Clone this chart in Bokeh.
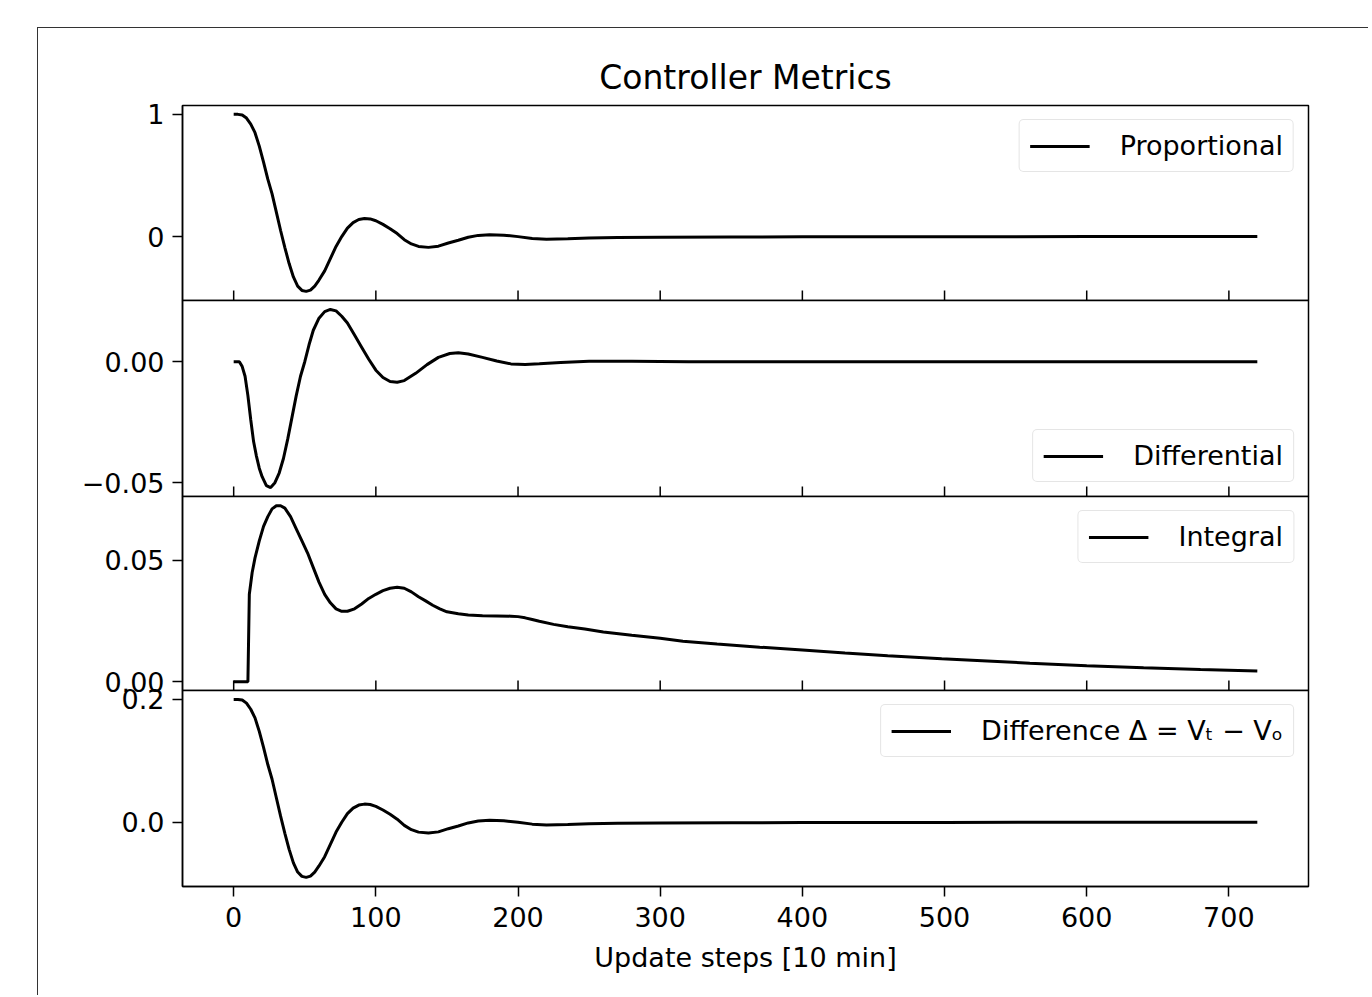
import math
from bokeh.plotting import figure
from bokeh.layouts import column
from bokeh.models import Range1d, FixedTicker
from bokeh.embed import file_html
from bokeh.resources import INLINE

# ---------------- data ----------------
steps_p = [0, 3, 6, 9, 12, 15, 18, 21, 24, 27, 30, 33, 36, 39, 42, 45, 48, 51, 54, 57, 60,
           64, 68, 72, 76, 80, 84, 88, 92, 96, 100, 105, 110, 115, 120, 125, 130, 137, 144,
           151, 158, 165, 172, 180, 190, 200, 210, 220, 235, 250, 270, 300, 350, 400, 500, 600, 720]
proportional = [1.0, 1.0, 0.995, 0.97, 0.92, 0.85, 0.74, 0.61, 0.47, 0.35, 0.20, 0.05, -0.09,
                -0.22, -0.33, -0.405, -0.44, -0.448, -0.438, -0.405, -0.355, -0.28, -0.18, -0.08,
                0.0, 0.07, 0.115, 0.14, 0.148, 0.145, 0.13, 0.10, 0.065, 0.025, -0.025, -0.06,
                -0.08, -0.088, -0.078, -0.052, -0.03, -0.005, 0.01, 0.016, 0.012, 0.0, -0.015,
                -0.022, -0.018, -0.012, -0.008, -0.006, -0.004, -0.002, -0.001, 0.0, 0.0]
difference = [0.2, 0.2, 0.199, 0.194, 0.184, 0.17, 0.148, 0.122, 0.094, 0.07, 0.04, 0.01, -0.018,
              -0.044, -0.066, -0.081, -0.088, -0.0896, -0.0876, -0.081, -0.071, -0.056, -0.036,
              -0.016, 0.0, 0.014, 0.023, 0.028, 0.0296, 0.029, 0.026, 0.02, 0.013, 0.005, -0.005,
              -0.012, -0.016, -0.0176, -0.0156, -0.0104, -0.006, -0.001, 0.002, 0.0032, 0.0024,
              0.0, -0.003, -0.0044, -0.0036, -0.0024, -0.0016, -0.0012, -0.0008, -0.0004,
              -0.0002, 0.0, 0.0]

steps_d = [0, 4, 6, 8, 10, 12, 14, 16, 18, 20, 23, 26, 29, 32, 35, 38, 41, 44, 47, 50, 53, 56,
           60, 64, 68, 72, 76, 80, 85, 90, 95, 100, 105, 110, 115, 120, 128, 136, 144, 152, 158,
           165, 175, 185, 195, 205, 215, 230, 250, 280, 320, 400, 720]
differential = [0.0, 0.0, -0.002, -0.006, -0.014, -0.024, -0.033, -0.039, -0.044, -0.0475,
                -0.0512, -0.052, -0.050, -0.046, -0.040, -0.032, -0.023, -0.014, -0.006, 0.0,
                0.007, 0.013, 0.018, 0.0207, 0.0216, 0.021, 0.0188, 0.016, 0.011, 0.006, 0.001,
                -0.0035, -0.0065, -0.0082, -0.0085, -0.0078, -0.0048, -0.0012, 0.0018, 0.0034,
                0.0037, 0.0032, 0.0018, 0.0003, -0.0009, -0.0011, -0.0008, -0.0003, 0.0002,
                0.0002, 0.0, 0.0, 0.0]

steps_i = [0, 10, 11, 13, 15, 18, 21, 24, 27, 30, 33, 36, 40, 44, 48, 52, 56, 60, 64, 68, 72,
           76, 80, 85, 90, 95, 100, 105, 110, 115, 120, 125, 130, 135, 140, 145, 150, 158, 165,
           175, 185, 195, 200, 205, 210, 215, 225, 235, 247, 260, 280, 300, 316, 340, 370, 400,
           430, 460, 498, 530, 560, 600, 640, 680, 720]
integral = [0.0, 0.0, 0.036, 0.045, 0.051, 0.058, 0.064, 0.068, 0.0712, 0.0725, 0.0725, 0.0715,
            0.068, 0.063, 0.058, 0.053, 0.047, 0.041, 0.036, 0.0325, 0.030, 0.029, 0.029, 0.030,
            0.032, 0.0343, 0.036, 0.0375, 0.0385, 0.0389, 0.0385, 0.037, 0.035, 0.0333, 0.0315,
            0.030, 0.0288, 0.028, 0.0275, 0.0272, 0.0271, 0.027, 0.0268, 0.0263, 0.0256,
            0.0249, 0.0236, 0.0226, 0.0217, 0.0205, 0.0191, 0.0179, 0.0167, 0.0155, 0.0142,
            0.013, 0.0118, 0.0107, 0.0094, 0.0085, 0.0076, 0.0066, 0.0057, 0.005, 0.0044]

x_ticks = [0, 100, 200, 300, 400, 500, 600, 700]
labels = ["Proportional", "Differential", "Integral", "Difference Δ = Vₜ − Vₒ"]
title_text = "Controller Metrics"
xlabel_text = "Update steps [10 min]"

FONT = "DejaVu Sans"
FS = "27px"
OVER = 20
OUT_L = 37   # outer frame line position (left)
OUT_T = 27   # outer frame line position (top)
x_range = Range1d(-36, 756)


def make_panel(xs, ys, label, y_range, yticks, ylabels, frame_h, legend_loc,
               title=None, bottom=False, first=False):
    kw = dict(title=title) if title else {}
    p = figure(x_range=x_range, y_range=y_range, frame_width=1126, frame_height=frame_h,
               min_border_left=182 - OUT_L - 1, min_border_right=60,
               min_border_top=(105 - OUT_T - 1) if first else OVER,
               min_border_bottom=0 if bottom else OVER,
               output_backend="svg", toolbar_location=None, **kw)
    if not first:
        p.margin = (-2 * OVER, 0, 0, 0)
    p.background_fill_color = "white"
    p.border_fill_color = None
    p.grid.visible = False
    p.outline_line_color = "black"
    p.outline_line_width = 1.5
    p.line(xs, ys, line_color="black", line_width=3, legend_label=label)

    ya = p.yaxis[0]
    ya.ticker = FixedTicker(ticks=yticks)
    ya.major_label_overrides = {t: s for t, s in zip(yticks, ylabels)}
    ya.major_tick_out = 10
    ya.major_tick_in = 0
    ya.minor_tick_line_color = None
    ya.axis_line_width = 1.5
    ya.major_tick_line_width = 1.5
    ya.major_label_text_font = FONT
    ya.major_label_text_font_size = FS
    ya.major_label_text_color = "black"
    ya.major_label_standoff = 8

    xa = p.xaxis[0]
    if bottom:
        xa.ticker = FixedTicker(ticks=x_ticks)
        xa.minor_tick_line_color = None
        xa.axis_line_width = 1.5
        xa.major_tick_line_width = 1.5
        xa.major_tick_out = 10
        xa.major_tick_in = 0
        xa.major_label_text_font = FONT
        xa.major_label_text_font_size = FS
        xa.major_label_text_color = "black"
        xa.major_label_standoff = 10
        xa.axis_label = xlabel_text
        xa.axis_label_text_font = FONT
        xa.axis_label_text_font_size = FS
        xa.axis_label_text_font_style = "normal"
        xa.axis_label_text_color = "black"
        xa.axis_label_standoff = 12
    else:
        xa.visible = False
        # inward tick marks at the shared x tick positions (bottom edge of the panel)
        p.ray(x=x_ticks, y=[y_range.start] * len(x_ticks), length=10, length_units="screen",
              angle=math.pi / 2, line_color="black", line_width=1.5)

    lg = p.legend[0]
    lg.location = legend_loc
    lg.margin = 14
    lg.padding = 10
    lg.glyph_width = 60
    lg.label_standoff = 30
    lg.label_text_font = FONT
    lg.label_text_font_size = FS
    lg.label_text_color = "black"
    lg.border_line_color = "#cccccc"
    lg.border_line_width = 1.5
    lg.background_fill_alpha = 0.8
    lg.spacing = 0
    try:
        lg.border_radius = 5
    except Exception:
        pass

    if title:
        p.title.text_font = FONT
        p.title.text_font_size = "33px"
        p.title.text_font_style = "normal"
        p.title.text_color = "black"
        p.title.align = "center"
        p.title.standoff = 18
    return p


p1 = make_panel(steps_p, proportional, labels[0], Range1d(-0.5225, 1.0725),
                [0, 1], ["0", "1"], 195, "top_right", title=title_text, first=True)
p2 = make_panel(steps_d, differential, labels[1], Range1d(-0.0557, 0.0253),
                [-0.05, 0.0], ["−0.05", "0.00"], 196, "bottom_right")
p3 = make_panel(steps_i, integral, labels[2], Range1d(-0.00364, 0.0763),
                [0.0, 0.05], ["0.00", "0.05"], 194, "top_right")
p4 = make_panel(steps_p, difference, labels[3], Range1d(-0.1045, 0.2145),
                [0.0, 0.2], ["0.0", "0.2"], 196, "top_right", bottom=True)

layout = column(p1, p2, p3, p4, spacing=0, margin=(OUT_T, 0, 0, OUT_L),
                styles={"border-left": "1px solid #333333", "border-top": "1px solid #333333",
                        "padding-bottom": "20px"})
open("out.html", "w").write(file_html(layout, INLINE))
